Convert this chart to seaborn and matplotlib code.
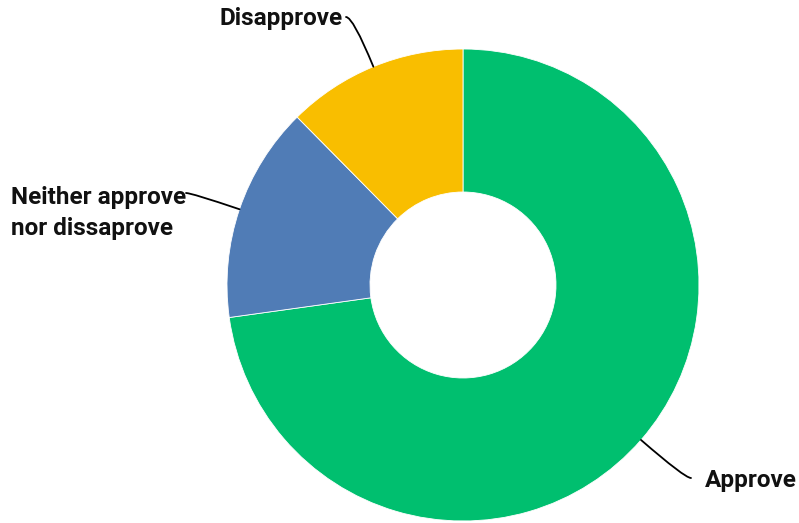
#!/usr/bin/env python3
import numpy as np
import matplotlib
matplotlib.use("Agg")
import matplotlib.pyplot as plt
import seaborn as sns

######################################################################### data ##########################################################
categories = ["Approve", "Neither approve\nnor dissaprove", "Disapprove"]
shares = [72.8, 14.8, 12.4]
colors = ["#00BF6F", "#507CB6", "#F9BE00"]

######################################################################### main ##########################################################
def plot_donut(outfile):
	sns.set_style("white")
	plt.rcParams['font.family'] = ['Roboto', 'DejaVu Sans']
	W, H = 799, 523
	fig = plt.figure(figsize=(W/100, H/100), dpi=100)
	ax = fig.add_axes([0, 0, 1, 1])

	cx, cy, r = 463, H-285, 236
	pal = sns.color_palette(colors)
	wedges, _ = ax.pie(shares, colors=pal, startangle=90, counterclock=False,
		center=(cx, cy), radius=r, frame=True,
		wedgeprops=dict(width=r-93, edgecolor='white', linewidth=0.6))
	ax.set_xlim(0, W)
	ax.set_ylim(0, H)
	ax.set_aspect('equal')
	ax.axis('off')

	# label placement: (text x, text y, ha, line start x, line start y)
	lab = {
		"Approve": (705, H-481, 'left', 691, H-478),
		"Neither approve\nnor dissaprove": (11, H-213, 'left', 186, H-193),
		"Disapprove": (343, H-18, 'right', 346, H-17),
	}
	for w, name in zip(wedges, categories):
		ang = np.deg2rad((w.theta1 + w.theta2) / 2)
		ex, ey = cx + r*np.cos(ang), cy + r*np.sin(ang)
		tx, ty, ha, lx, ly = lab[name]
		ax.text(tx, ty, name, ha=ha, va='center', fontsize=17.5, fontweight='bold',
			color='#111111', linespacing=1.45)
		ax.annotate("", xy=(ex, ey), xytext=(lx, ly),
			arrowprops=dict(arrowstyle='-', color='black', lw=1.3,
				shrinkA=0, shrinkB=0,
				connectionstyle="angle3,angleA=0,angleB=%.1f" % np.degrees(ang)))
	fig.savefig(outfile, dpi=100)
	plt.close()

if __name__ == "__main__":
	plot_donut("out.png")
